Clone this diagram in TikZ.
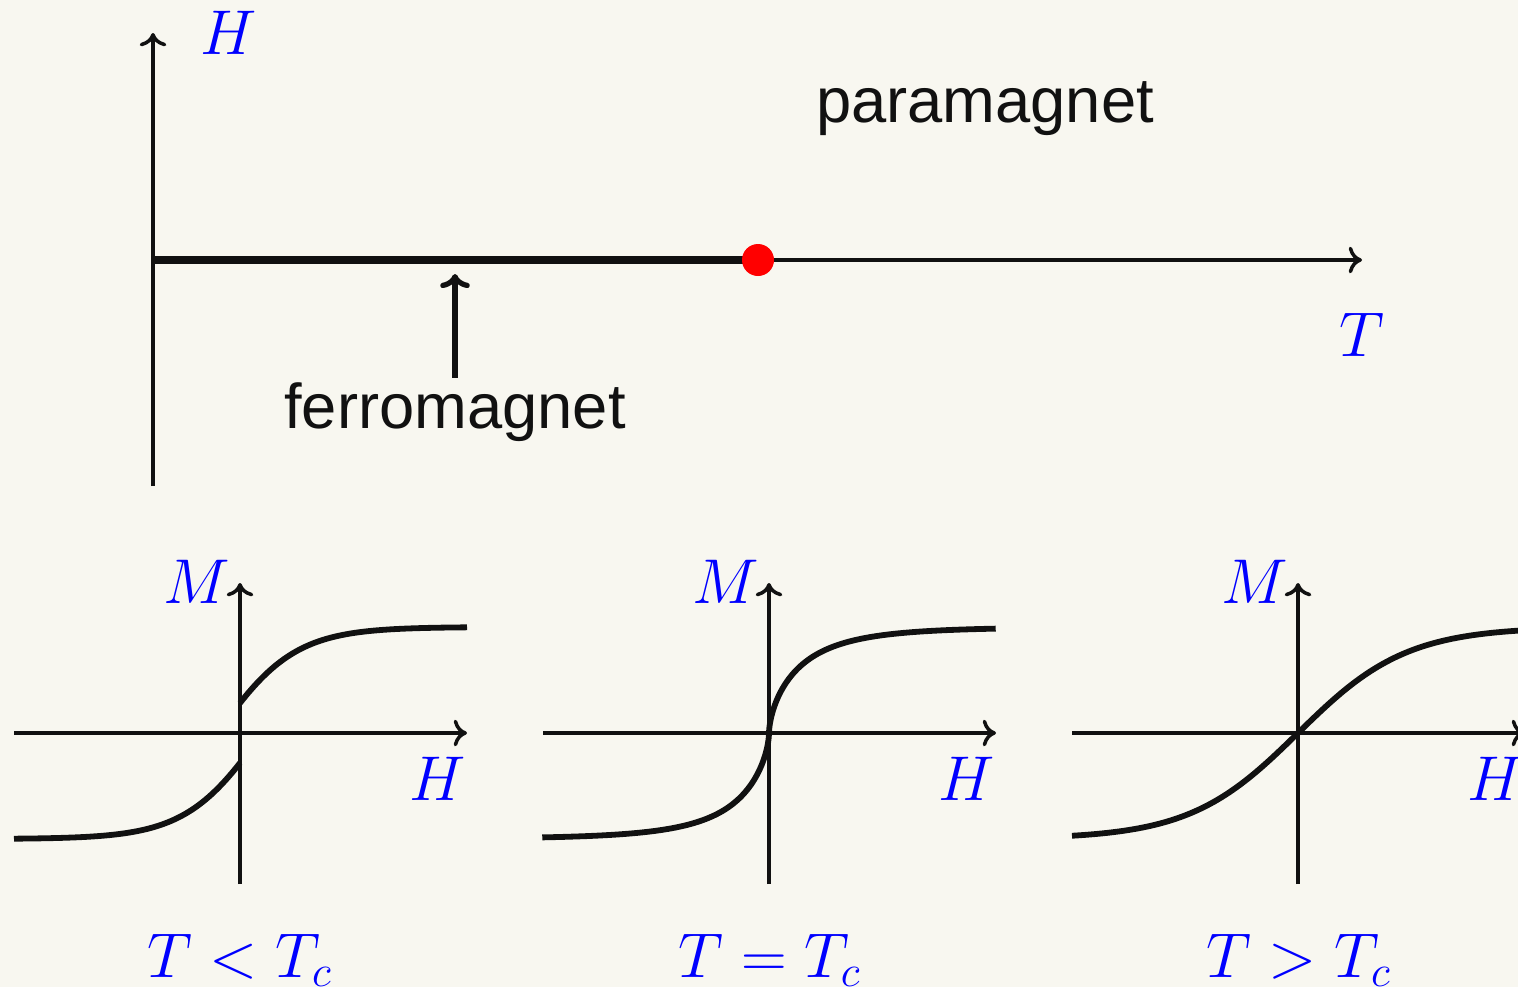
\RequirePackage{fix-cm}
\documentclass[tikz,border=0pt]{standalone}
\usepackage{fontspec}
\newfontfamily\sflab{Liberation Sans}
\usetikzlibrary{arrows.meta}
\definecolor{bg}{RGB}{248,247,240}
\definecolor{ink}{RGB}{17,17,17}
\tikzset{
  axis/.style={draw=ink, line width=1pt, -{Computer Modern Rightarrow[length=3.8pt,width=7.6pt]}},
  heavy/.style={draw=ink, line width=2.2pt},
  curve/.style={draw=ink, line width=1.65pt},
  pointer/.style={draw=ink, line width=1.5pt, -{Computer Modern Rightarrow[length=4pt,width=8.4pt]}},
  lab/.style={text=blue, inner sep=0pt, font=\fontsize{18}{22}\selectfont},
  word/.style={text=ink, inner sep=0pt, font=\sflab\fontsize{18}{22}\selectfont},
  crit/.style={circle, fill=red, inner sep=0pt, minimum size=0.32cm}
}
\begin{document}
\begin{tikzpicture}[x=0.01cm, y=-0.01cm]
\fill[bg] (0,0) rectangle (1518,987);
\useasboundingbox (0,0) rectangle (1518,987);

% ---------- top phase diagram ----------
\coordinate (O) at (153,260);
\coordinate (Hbot) at (153,486);
\coordinate (Htop) at (153,33);
\coordinate (Tend) at (1362,260);
\coordinate (cpc) at (758,260);
\draw[axis] (Hbot) -- (Htop);
\draw[axis] (O) -- (Tend);
\draw[heavy] (O) -- (cpc);
\node[crit] (cp) at (cpc) {};
\node[lab] (Hlab) at (229,33) {$H$};
\node[lab] (Tlab) at (1362,335) {$T$};
\node[word, anchor=base] (para) at (985,122) {paramagnet};
\node[word, anchor=base] (ferro) at (455,428) {ferromagnet};
\coordinate (ptip) at (455,274);
\draw[pointer] (ferro.north -| ptip) ++(0,-4) -- (ptip);

% ---------- bottom panels ----------
\foreach \dx/\nm in {0/a,529/b,1058/c}{
  \begin{scope}[shift={(\dx,0)}]
    \coordinate (\nm0) at (240,733);
    \coordinate (\nm l) at (14,733);
    \coordinate (\nm r) at (467,733);
    \coordinate (\nm b) at (240,884);
    \coordinate (\nm t) at (240,583);
    \draw[axis] (\nm l) -- (\nm r);
    \draw[axis] (\nm b) -- (\nm t);
    \node[lab] (\nm M) at (197,582) {$M$};
    \node[lab] (\nm H) at (438,779) {$H$};
  \end{scope}
}
\node[lab, anchor=base] (lt) at (240,977) {$T<T_c$};
\node[lab, anchor=base] (eq) at (770,977) {$T=T_c$};
\node[lab, anchor=base] (gt) at (1299,977) {$T>T_c$};

% T < Tc : spontaneous magnetisation
\draw[curve] plot[domain=0:227, samples=80] ({240+\x},{733-106*tanh(0.013*\x+0.291)});
\draw[curve] plot[domain=0:226, samples=80] ({240-\x},{733+106*tanh(0.013*\x+0.291)});
% T = Tc : vertical tangent at origin
\draw[curve] plot[domain=-25.9:25.9, samples=160]
  ({769+sign(\x)*pow(abs(\x),1.6667)},{733-106*tanh(0.094*\x)});
% T > Tc : smooth paramagnetic response
\draw[curve] plot[domain=-226:230, samples=120] ({1298+\x},{733-106*tanh(0.0092*\x)});
\end{tikzpicture}
\end{document}
